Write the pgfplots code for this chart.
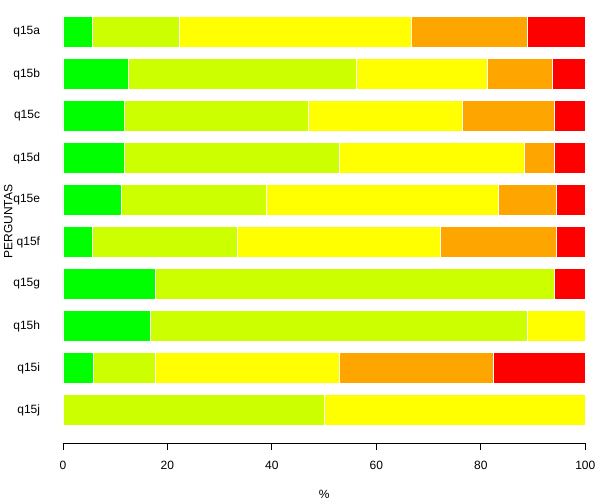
\documentclass[border=0pt]{standalone}
\usepackage{pgfplots}
\pgfplotsset{compat=1.18}
\usepackage{fontspec}
\setmainfont{Liberation Sans}
\definecolor{cg}{RGB}{0,255,0}
\definecolor{cl}{RGB}{204,255,0}
\definecolor{cy}{RGB}{255,255,0}
\definecolor{co}{RGB}{255,165,0}
\definecolor{cr}{RGB}{255,0,0}
\pgfplotstableread{
y g l yy o r
10 5.556 16.667 44.444 22.222 11.111
9 12.5 43.75 25 12.5 6.25
8 11.765 35.294 29.412 17.647 5.882
7 11.765 41.176 35.294 5.882 5.882
6 11.111 27.778 44.444 11.111 5.556
5 5.556 27.778 38.889 22.222 5.556
4 17.647 76.471 0 0 5.882
3 16.667 72.222 11.111 0 0
2 5.882 11.765 35.294 29.412 17.647
1 0 50 50 0 0
}\data
\begin{document}
\fontsize{12}{14}\selectfont
\begin{tikzpicture}
\begin{axis}[
  scale only axis,
  width=522.6pt, height=443.3pt,
  xmin=0, xmax=100, ymin=0.21, ymax=10.765,
  xbar stacked, bar width=31pt,
  axis x line*=bottom, axis y line*=left,
  y axis line style={draw=none},
  ytick style={draw=none},
  ytick={1,...,10},
  yticklabels={q15j,q15i,q15h,q15g,q15f,q15e,q15d,q15c,q15b,q15a},
  xtick={0,20,...,100},
  tick align=outside,
  major tick length=6.7pt,
  x axis line style={line width=0.8pt, -},
  xtick style={line width=0.8pt, black},
  /pgf/number format/assume math mode=true,
  tick label style={font=\fontsize{12}{14}\selectfont},
  yticklabel style={anchor=east, xshift=-12pt},
  xticklabel style={anchor=center, yshift=-16pt},
  xlabel={\%}, ylabel={PERGUNTAS},
  x label style={at={(axis description cs:0.5,-0.1166)}, anchor=center},
  y label style={at={(axis description cs:-0.1047,0.5)}, anchor=center},
  label style={font=\fontsize{12}{14}\selectfont},
  clip=false,
]
\addplot[fill=cg, draw=white, line width=0.6pt] table[x=g, y=y] {\data};
\addplot[fill=cl, draw=white, line width=0.6pt] table[x=l, y=y] {\data};
\addplot[fill=cy, draw=white, line width=0.6pt] table[x=yy, y=y] {\data};
\addplot[fill=co, draw=white, line width=0.6pt] table[x=o, y=y] {\data};
\addplot[fill=cr, draw=white, line width=0.6pt] table[x=r, y=y] {\data};
\end{axis}
\path[use as bounding box] (-62.7pt,-57.7pt) rectangle (537.3pt,443.3pt);
\end{tikzpicture}
\end{document}
